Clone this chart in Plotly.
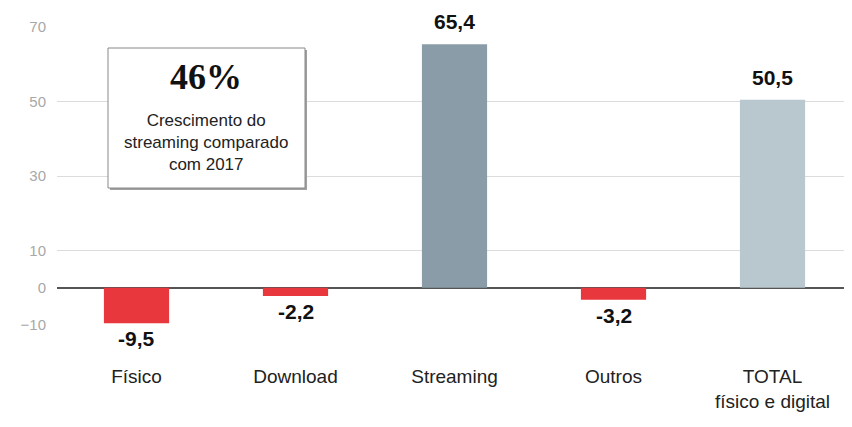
import plotly.graph_objects as go

categories = ["Físico", "Download", "Streaming", "Outros", "TOTAL<br>físico e digital"]
values = [-9.5, -2.2, 65.4, -3.2, 50.5]
labels = ["-9,5", "-2,2", "65,4", "-3,2", "50,5"]
colors = ["#e8383e", "#e8383e", "#8a9ca7", "#e8383e", "#b9c7ce"]
y_ticks = [-10, 0, 10, 30, 50, 70]

OFF = 8  # page body margin
L, R, T, B = 57 - OFF, 0, 27 - OFF, 102
W, H = 852 - OFF, 427 - OFF
pw, ph = W - L - R, H - T - B

def px(x):
    return (x - OFF - L) / pw

def py(y):
    return (H - B - (y - OFF)) / ph

fig = go.Figure()
fig.add_trace(go.Bar(
    x=categories, y=values, marker=dict(color=colors, line=dict(width=0)),
    hoverinfo="skip",
))

for c, v, t in zip(categories, values, labels):
    fig.add_annotation(x=c, y=v, text="<b>%s</b>" % t, showarrow=False,
                       xanchor="center", yanchor="bottom" if v > 0 else "top",
                       yshift=9 if v > 0 else -2,
                       font=dict(family="Arial, Liberation Sans", size=21, color="#111"))

# box with shadow
fig.add_shape(type="rect", xref="paper", yref="paper",
              x0=px(110), x1=px(307), y0=py(50), y1=py(190),
              fillcolor="#a0a0a0", line=dict(width=0), layer="above")
fig.add_shape(type="rect", xref="paper", yref="paper",
              x0=px(108), x1=px(305), y0=py(48), y1=py(188),
              fillcolor="white", line=dict(color="#888", width=1), layer="above")
fig.add_annotation(xref="paper", yref="paper", x=px(206), y=py(77),
                   xanchor="center", yanchor="middle",
                   text="<b>46%</b>", showarrow=False,
                   font=dict(family="Liberation Serif, Times New Roman, serif", size=36, color="#111"))
fig.add_annotation(xref="paper", yref="paper", x=px(206), y=py(142),
                   xanchor="center", yanchor="middle",
                   text="Crescimento do<br>streaming comparado<br>com 2017", showarrow=False,
                   font=dict(family="Arial, Liberation Sans", size=17, color="#222"))

fig.update_layout(
    width=W, height=H, margin=dict(l=L, r=R, t=T, b=B, autoexpand=False),
    paper_bgcolor="white", plot_bgcolor="white",
    showlegend=False, bargap=0.59,
    font=dict(family="Arial, Liberation Sans"),
)
fig.update_xaxes(showgrid=False, showline=False, ticks="", ticklabelstandoff=38, automargin=False,
                 tickfont=dict(size=19, color="#222"))
fig.update_yaxes(range=[-10, 70], tickvals=y_ticks, showgrid=True, gridcolor="#dcdcdc", automargin=False,
                 gridwidth=1, zeroline=True, zerolinecolor="#555", zerolinewidth=1.5,
                 tickfont=dict(size=15, color="#a8a8a8"), ticklabelstandoff=10, showline=False)

fig.write_html("out.html")
